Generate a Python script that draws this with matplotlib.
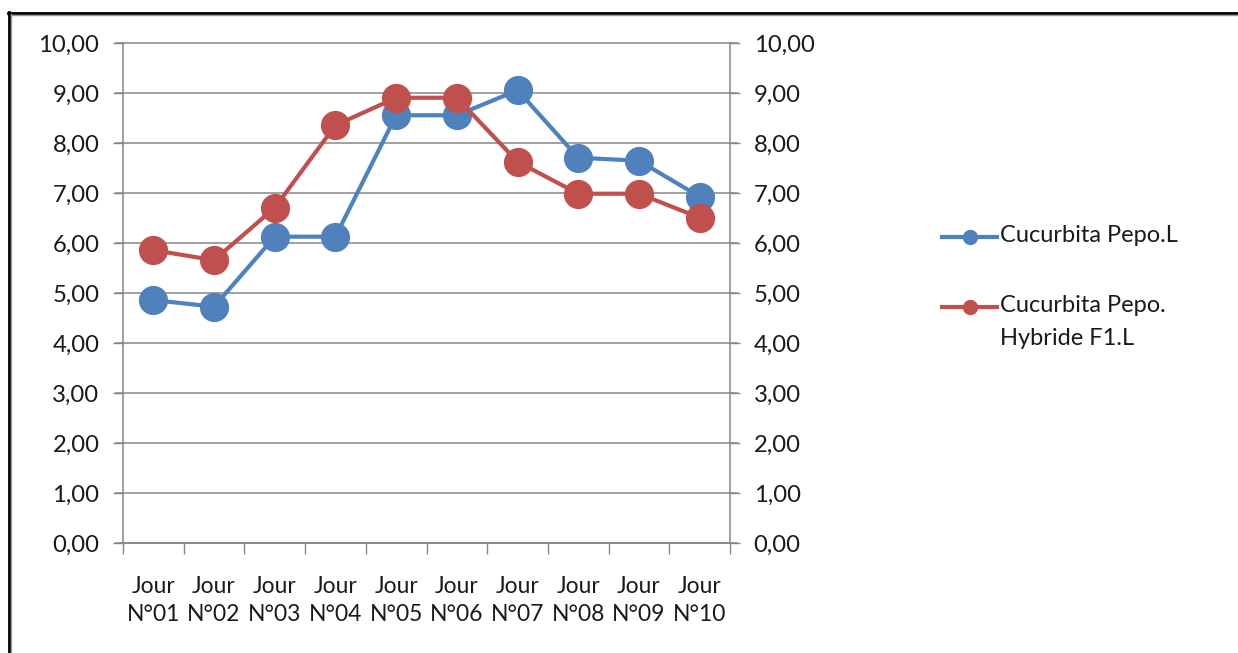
import matplotlib
matplotlib.use("Agg")
import matplotlib.pyplot as plt
from matplotlib.lines import Line2D
import numpy as np

plt.rcParams['font.family'] = ['Lato', 'DejaVu Sans']

days = ["Jour\nN°01", "Jour\nN°02", "Jour\nN°03", "Jour\nN°04", "Jour\nN°05",
        "Jour\nN°06", "Jour\nN°07", "Jour\nN°08", "Jour\nN°09", "Jour\nN°10"]
pepo = [4.86, 4.73, 6.13, 6.13, 8.56, 8.56, 9.06, 7.71, 7.65, 6.93]
hybride = [5.86, 5.66, 6.71, 8.36, 8.91, 8.91, 7.63, 6.99, 6.99, 6.51]
series_names = ["Cucurbita Pepo.L", "Cucurbita Pepo.\nHybride F1.L"]
yticks = np.arange(0, 11, 1)

blue = "#4F81BD"
red = "#C0504D"
grid_c = "#868686"
txt_c = "#1a1a1a"

W, H = 1238, 653
fig = plt.figure(figsize=(W / 100, H / 100), dpi=100)
ax = fig.add_axes([123 / W, 1 - 543 / H, (730 - 123) / W, (543 - 43.3) / H])

x = np.arange(len(days))
ax.plot(x, pepo, color=blue, lw=3, marker='o', ms=20, zorder=3,
        solid_joinstyle='round')
ax.plot(x, hybride, color=red, lw=3, marker='o', ms=20, zorder=3,
        solid_joinstyle='round')

ax.set_xlim(-0.5, len(days) - 0.5)
ax.set_ylim(0, 10)
ax.set_yticks(yticks)
ax.set_yticklabels([f"{v:.2f}".replace('.', ',') for v in yticks])
ax.tick_params(axis='y', which='both', direction='out', length=7, width=1,
               color=grid_c, labelsize=17.2, labelcolor=txt_c, pad=10,
               right=True, labelright=True)

# category labels centered, ticks on category boundaries
ax.set_xticks(x)
ax.set_xticklabels(days, fontsize=16.5, color=txt_c, linespacing=1.42)
ax.tick_params(axis='x', which='major', length=0, pad=24)
ax.set_xticks(np.arange(-0.5, len(days), 1), minor=True)
ax.tick_params(axis='x', which='minor', direction='out', length=8, width=1,
               color=grid_c)

for v in yticks:
    ax.plot([-0.62, len(days) - 0.38], [v, v], color=grid_c, lw=1.1,
            clip_on=False, zorder=1)

ax.spines['top'].set_visible(False)
for s in ['left', 'right', 'bottom']:
    ax.spines[s].set_color(grid_c)
    ax.spines[s].set_linewidth(1.1)


def fx(px):
    return px / W


def fy(py):
    return 1 - py / H


# legend: short line with a dot, label aligned to the first text line
legend_rows = [(blue, 237), (red, 307)]
for (color, py), name in zip(legend_rows, series_names):
    fig.add_artist(Line2D([fx(942), fx(997)], [fy(py), fy(py)],
                          transform=fig.transFigure, color=color, lw=3))
    fig.add_artist(Line2D([fx(969.5)], [fy(py)], transform=fig.transFigure,
                          color=color, marker='o', ms=10, lw=0))
    fig.text(fx(1000), fy(py - 12), name, fontsize=17, color=txt_c,
             ha='left', va='top', linespacing=1.7,
             transform=fig.transFigure)

# outer frame (top and left edges)
fig.add_artist(Line2D([8 / W, 1], [1 - 12.5 / H, 1 - 12.5 / H],
                      transform=fig.transFigure, color='black', lw=2))
fig.add_artist(Line2D([8 / W, 1], [1 - 14.5 / H, 1 - 14.5 / H],
                      transform=fig.transFigure, color='#9a9a9a', lw=1))
fig.add_artist(Line2D([8.5 / W, 8.5 / W], [0, 1 - 12 / H],
                      transform=fig.transFigure, color='black', lw=2))
fig.add_artist(Line2D([11 / W, 11 / W], [0, 1 - 14 / H],
                      transform=fig.transFigure, color='#9a9a9a', lw=1))

fig.savefig("out.png", dpi=100, facecolor='white')
